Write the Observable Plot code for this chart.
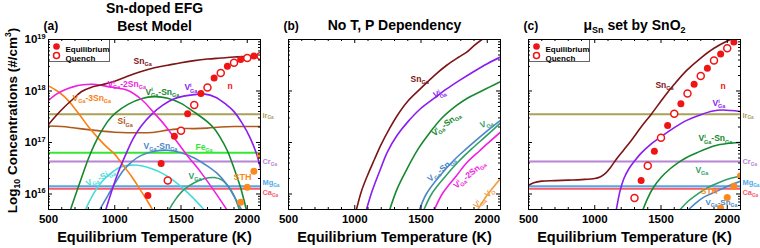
<!DOCTYPE html>
<html><head><meta charset="utf-8">
<script src="https://cdn.jsdelivr.net/npm/d3@7"></script>
<script src="https://cdn.jsdelivr.net/npm/@observablehq/plot@0.6"></script>
<style>
html,body{margin:0;padding:0;background:#fff;}
#wrap{position:relative;width:760px;height:248px;overflow:hidden;background:#fff;}
#wrap svg{position:absolute;left:0;top:0;}
.lgbox{position:absolute;top:39px;width:62px;height:23px;box-sizing:border-box;border:1px solid #666;background:#fff;}
</style></head><body><div id="wrap"><div class="lgbox" style="left:48px"></div><div class="lgbox" style="left:528px"></div></div>
<script>
// ---------- data: [temperature K, log10 concentration (#/cm3)] ----------
// Panel (a) Sn-doped EFG, best model
const snA    = [[500,17.35],[560,17.53],[620,17.69],[680,17.83],[750,17.99],[820,18.07],[900,18.12],[1000,18.19],[1100,18.29],[1200,18.38],[1300,18.45],[1400,18.50],[1500,18.55],[1600,18.59],[1700,18.62],[1800,18.64],[1900,18.66],[2000,18.67],[2100,18.68]];
const vi2snA = [[500,17.82],[560,17.94],[620,18.02],[685,18.08],[760,18.12],[830,18.13],[900,18.11],[960,18.08],[1040,18.05],[1100,18.01],[1200,17.84],[1295,17.58],[1380,17.33],[1460,17.05],[1550,16.74],[1650,16.42],[1750,16.06],[1860,15.64]];
const v3snA  = [[500,18.10],[560,18.01],[620,17.89],[680,17.72],[740,17.52],[800,17.31],[870,17.10],[940,16.91],[1000,16.77],[1066,16.55],[1130,16.33],[1193,16.08],[1250,15.85],[1300,15.63]];
const visnA  = [[660,15.65],[700,15.95],[750,16.32],[800,16.68],[850,16.98],[900,17.22],[950,17.42],[1000,17.56],[1100,17.74],[1200,17.85],[1300,17.89],[1400,17.86],[1500,17.76],[1600,17.59],[1700,17.40],[1750,17.27],[1800,17.08],[1850,16.84],[1900,16.50],[1950,16.12],[2000,15.62]];
const viA    = [[927,15.65],[970,16.00],[1020,16.38],[1080,16.75],[1140,17.08],[1200,17.32],[1280,17.55],[1360,17.72],[1440,17.84],[1520,17.90],[1600,17.93],[1680,17.94],[1760,17.88],[1840,17.74],[1900,17.60],[1960,17.38],[2020,17.10],[2070,16.78],[2100,16.50]];
const vsnA   = [[876,15.65],[950,15.98],[1000,16.20],[1066,16.46],[1130,16.63],[1200,16.75],[1300,16.83],[1400,16.85],[1500,16.80],[1600,16.70],[1700,16.54],[1777,16.39],[1850,16.17],[1904,15.94],[1968,15.64]];
const vsiA   = [[770,15.65],[830,15.96],[890,16.20],[960,16.38],[1040,16.52],[1120,16.56],[1200,16.55],[1280,16.49],[1360,16.40],[1440,16.27],[1520,16.10],[1600,15.90],[1700,15.62]];
const vA     = [[1400,15.65],[1460,15.90],[1520,16.08],[1600,16.22],[1680,16.30],[1750,16.32],[1810,16.27],[1860,16.14],[1900,15.97],[1940,15.70],[1950,15.62]];
const siA    = [[500,17.32],[600,17.31],[700,17.28],[800,17.25],[900,17.22],[1000,17.20],[1100,17.19],[1200,17.19],[1300,17.20],[1400,17.24],[1500,17.27],[1600,17.27],[1700,17.28],[1800,17.30],[1900,17.31],[2000,17.31],[2100,17.31]];
const eqA    = [[1250,15.97],[1350,16.59],[1450,17.12],[1550,17.56],[1650,17.95],[1750,18.25],[1850,18.48],[1950,18.61],[2050,18.68]];
const qA     = [[1400,16.26],[1500,17.23],[1600,17.73],[1700,18.07],[1800,18.35],[1900,18.55],[2000,18.64],[2100,18.68]];
const sthA   = [[1950,15.84],[2000,16.13],[2050,16.44],[2100,16.75]];

// Panel (b) no T, P dependency
const snB    = [[1008,15.65],[1050,16.05],[1096,16.36],[1150,16.68],[1195,16.94],[1260,17.26],[1320,17.52],[1400,17.80],[1494,18.04],[1600,18.30],[1694,18.50],[1780,18.65],[1843,18.75],[1900,18.88],[1960,19.00],[2050,19.15]];
const viB    = [[1083,15.65],[1130,16.05],[1195,16.49],[1245,16.81],[1320,17.14],[1400,17.40],[1494,17.65],[1600,17.86],[1694,18.04],[1800,18.22],[1893,18.37],[2000,18.53],[2100,18.66]];
const visnB  = [[1258,15.65],[1320,16.10],[1395,16.49],[1480,16.88],[1569,17.20],[1660,17.48],[1769,17.72],[1850,17.86],[1943,17.98],[2020,18.08],[2100,18.18]];
const vsnB   = [[1482,15.65],[1540,16.00],[1644,16.36],[1750,16.66],[1843,16.88],[1950,17.12],[2030,17.29],[2100,17.43]];
const vB     = [[1515,15.65],[1580,16.00],[1680,16.33],[1780,16.62],[1880,16.87],[1980,17.10],[2100,17.38]];
const vi2snB = [[1594,15.65],[1660,16.00],[1769,16.36],[1850,16.62],[1943,16.84],[2020,17.02],[2100,17.20]];
const vivoB  = [[1918,15.65],[2000,15.98],[2100,16.30]];

// Panel (c) mu_Sn set by SnO2
const snC    = [[500,16.17],[540,16.22],[600,16.25],[700,16.26],[800,16.27],[900,16.28],[1000,16.30],[1040,16.33],[1080,16.40],[1120,16.52],[1170,16.70],[1220,16.86],[1270,17.02],[1350,17.30],[1430,17.56],[1519,17.87],[1600,18.13],[1694,18.40],[1800,18.64],[1900,18.83],[2000,18.97],[2100,19.08]];
const viC    = [[1160,15.65],[1190,16.05],[1220,16.30],[1260,16.50],[1300,16.64],[1345,16.78],[1420,16.96],[1494,17.10],[1600,17.29],[1694,17.43],[1800,17.54],[1893,17.61],[1960,17.63],[2030,17.62],[2100,17.60]];
const visnC  = [[1357,15.65],[1400,15.92],[1444,16.13],[1500,16.32],[1569,16.49],[1630,16.61],[1694,16.71],[1770,16.80],[1843,16.88],[1943,16.96],[2000,16.98],[2100,17.00]];
const vC     = [[1629,15.65],[1700,15.85],[1760,15.97],[1818,16.07],[1880,16.16],[1943,16.23],[2020,16.30],[2100,16.35]];
const vsnC   = [[1690,15.65],[1760,15.82],[1830,15.95],[1900,16.03],[1943,16.08],[2020,16.17],[2100,16.25]];
const eqC    = [[1350,16.26],[1450,16.83],[1550,17.33],[1650,17.75],[1750,18.13],[1850,18.44],[1950,18.72],[2050,18.95]];
const qC     = [[1300,15.92],[1400,16.55],[1500,17.09],[1600,17.56],[1700,17.95],[1800,18.29],[1900,18.59],[2000,18.83]];
const sthC   = [[1950,15.73],[2000,15.93],[2050,16.15],[2100,16.35]];

// constant (horizontal) impurity levels, log10
const irLevel = 17.55, feLevel = 16.80, crLevel = 16.63, mgLevel = 16.15, caLevel = 16.10;

// ticks
const xMajor = [500, 1000, 1500, 2000];
const xMinor = [600,700,800,900,1100,1200,1300,1400,1600,1700,1800,1900,2100];
const yMajor = [16, 17, 18, 19];
const yMinor = [];
for (let n = 15; n <= 18; n++) for (let k = 2; k <= 9; k++) { const v = n + Math.log10(k); if (v > 15.7 && v < 19) yMinor.push(v); }

// ---------- layout & style ----------
const W = 760, H = 248, MT = 39, MB = 39;
const FONT = "'Liberation Sans', Arial, Helvetica, sans-serif";
const X_DOMAIN = [500, 2100], Y_DOMAIN = [15.699, 19];
const C = {sn:"#7d1416", vi:"#8b1cf0", visn:"#16892e", v:"#2f9f67", vsn:"#4a87c6", vsi:"#46dcdc",
  vi2sn:"#f01ee0", v3sn:"#fb7f13", si:"#b0581e", ir:"#aaa15a", fe:"#33e833", cr:"#b884d4",
  mg:"#4fa8ec", ca:"#fa5a6a", pt:"#f01414", sth:"#fb8a1e", vivo:"#f0a048"};

function panel(o) {
  const fw = o.x1 - o.x0, fh = H - MT - MB;
  const marks = [];
  for (const h of o.hlines) marks.push(Plot.ruleY([h.v], {y: d => d, stroke: h.c, strokeWidth: 2}));
  for (const l of o.lines) marks.push(Plot.line(l.d, {x: d => d[0], y: d => d[1], stroke: l.c, strokeWidth: 1.6, curve: "catmull-rom", clip: true}));
  for (const p of o.dots) marks.push(Plot.dot(p.d, {x: d => d[0], y: d => d[1], r: 3.5, fill: p.open ? "white" : p.c, stroke: p.c, strokeWidth: p.open ? 1.5 : 0, clip: true}));
  for (const t of o.labels) marks.push(Plot.text([t], {x: d => d.x, y: d => d.y, text: d => d.t, fill: t.c,
    fontSize: t.fs || 8.5, fontWeight: "bold", textAnchor: t.r ? "middle" : "start", lineAnchor: t.r ? "middle" : "bottom", rotate: t.r || 0}));
  for (const t of (o.rlabels || [])) marks.push(Plot.text([t], {y: d => d.y, text: d => d.t, fill: t.c, frameAnchor: "right", dx: 2,
    fontSize: 7.4, fontWeight: "bold", textAnchor: "start"}));
  if (o.legend) {
    marks.push(Plot.dot(["Equilibrium"], {frameAnchor: "top-left", dx: 8, dy: 7, r: 3.3, fill: C.pt}));
    marks.push(Plot.dot(["Quench"], {frameAnchor: "top-left", dx: 8, dy: 16, r: 3, fill: "white", stroke: C.pt, strokeWidth: 1.5}));
    marks.push(Plot.text(["Equilibrium"], {frameAnchor: "top-left", dx: 17, dy: 7, text: d => d, fontSize: 8, fontWeight: "bold", textAnchor: "start"}));
    marks.push(Plot.text(["Quench"], {frameAnchor: "top-left", dx: 17, dy: 16, text: d => d, fontSize: 8, fontWeight: "bold", textAnchor: "start"}));
  }
  // inward ticks on all four sides
  marks.push(Plot.tickX(xMajor, {x: d => d, insetTop: fh - 4, stroke: "#000"}));
  marks.push(Plot.tickX(xMajor, {x: d => d, insetBottom: fh - 4, stroke: "#000"}));
  marks.push(Plot.tickX(xMinor, {x: d => d, insetTop: fh - 2, stroke: "#000"}));
  marks.push(Plot.tickX(xMinor, {x: d => d, insetBottom: fh - 2, stroke: "#000"}));
  marks.push(Plot.tickY(yMajor, {y: d => d, insetRight: fw - 4, stroke: "#000"}));
  marks.push(Plot.tickY(yMajor, {y: d => d, insetLeft: fw - 4, stroke: "#000"}));
  marks.push(Plot.tickY(yMinor, {y: d => d, insetRight: fw - 2, stroke: "#000"}));
  marks.push(Plot.tickY(yMinor, {y: d => d, insetLeft: fw - 2, stroke: "#000"}));
  marks.push(Plot.frame({stroke: "#000", strokeWidth: 1}));
  // x tick labels & title
  marks.push(Plot.text(xMajor, {x: d => d, text: d => String(d), frameAnchor: "bottom", dy: 13, lineAnchor: "bottom", fontSize: 11.5, fontWeight: "bold"}));
  marks.push(Plot.text(["Equilibrium Temperature (K)"], {text: d => d, frameAnchor: "bottom", dy: 32, lineAnchor: "bottom", fontSize: 14.5, fontWeight: "bold"}));
  // panel title & tag
  o.title.forEach((t, i) => marks.push(Plot.text([t], {text: d => d, frameAnchor: "top", dy: o.title.length === 2 ? (i ? -9 : -27) : -10, lineAnchor: "bottom", fontSize: 14, fontWeight: "bold"})));
  marks.push(Plot.text([o.tag], {text: d => d, frameAnchor: "top-left", dx: -5, dy: -10, lineAnchor: "bottom", textAnchor: "start", fontSize: 12, fontWeight: "bold"}));
  if (o.yaxis) {
    marks.push(Plot.text(yMajor, {y: d => d, text: d => `10^{${d}}`, frameAnchor: "left", dx: -3, textAnchor: "end", fontSize: 11.5, fontWeight: "bold"}));
    marks.push(Plot.text(["Log_{10} Concentrations (#/cm^{3})"], {text: d => d, frameAnchor: "left", dx: -36, dy: -4, rotate: -90, textAnchor: "middle", fontSize: 13.5, fontWeight: "bold"}));
  }
  return Plot.plot({
    width: W, height: H, marginLeft: o.x0, marginRight: W - o.x1, marginTop: MT, marginBottom: MB,
    x: {domain: X_DOMAIN, axis: null}, y: {domain: Y_DOMAIN, axis: null},
    style: {fontFamily: FONT, background: "transparent", overflow: "visible", color: "#000"},
    marks
  });
}

const rl = [{t:"Ir_{Ga}", y:17.53, c:C.ir}, {t:"Cr_{Ga}", y:16.62, c:C.cr}, {t:"Mg_{Ga}", y:16.22, c:C.mg}, {t:"Ca_{Ga}", y:16.03, c:C.ca}];

const pa = panel({x0: 48, x1: 260, yaxis: true, legend: true, tag: "(a)", title: ["Sn-doped EFG", "Best Model"],
  hlines: [{v: irLevel, c: C.ir}, {v: feLevel, c: C.fe}, {v: crLevel, c: C.cr}, {v: mgLevel, c: C.mg}, {v: caLevel, c: C.ca}],
  lines: [{d: siA, c: C.si}, {d: vsiA, c: C.vsi}, {d: vA, c: C.v}, {d: vsnA, c: C.vsn}, {d: v3snA, c: C.v3sn},
          {d: visnA, c: C.visn}, {d: viA, c: C.vi}, {d: vi2snA, c: C.vi2sn}, {d: snA, c: C.sn}],
  dots: [{d: sthA, c: C.sth}, {d: eqA, c: C.pt}, {d: qA, c: C.pt, open: true}],
  labels: [
    {t:"Sn_{Ga}", x:1142, y:18.53, c:C.sn},
    {t:"V^{i}_{Ga}-2Sn_{Ga}", x:945, y:18.07, c:C.vi2sn},
    {t:"V^{i}_{Ga}-Sn_{Ga}", x:1232, y:17.93, c:C.visn},
    {t:"V^{i}_{Ga}", x:1526, y:18.01, c:C.vi},
    {t:"n", x:1851, y:18.03, c:C.pt},
    {t:"V_{Ga}-3Sn_{Ga}", x:681, y:17.80, c:C.v3sn},
    {t:"Si_{Ga}", x:1021, y:17.35, c:C.si},
    {t:"V_{Ga}-Sn_{Ga}", x:1217, y:16.88, c:C.vsn},
    {t:"Fe_{Ga}", x:1609, y:16.86, c:C.fe},
    {t:"V_{Ga}", x:1557, y:16.30, c:C.v},
    {t:"STH", x:1896, y:16.28, c:C.sth, fs: 9},
    {t:"V_{Ga}-Si_{Ga}", x:892, y:16.32, c:C.vsi, r:-25}
  ],
  rlabels: rl});

const pb = panel({x0: 288, x1: 500, tag: "(b)", title: ["No T, P Dependency"],
  hlines: [],
  lines: [{d: vivoB, c: C.vivo}, {d: vi2snB, c: C.vi2sn}, {d: vB, c: C.v}, {d: vsnB, c: C.vsn}, {d: visnB, c: C.visn}, {d: viB, c: C.vi}, {d: snB, c: C.sn}],
  dots: [],
  labels: [
    {t:"Sn_{Ga}", x:1421, y:18.17, c:C.sn},
    {t:"V^{i}_{Ga}", x:1640, y:17.95, c:C.vi, r:-20},
    {t:"V^{i}_{Ga}-Sn_{Ga}", x:1689, y:17.36, c:C.visn, r:-38},
    {t:"V_{Ga}", x:1994, y:17.37, c:C.v, r:-20},
    {t:"V_{Ga}-Sn_{Ga}", x:1655, y:16.48, c:C.vsn, r:-40},
    {t:"V^{i}_{Ga}-2Sn_{Ga}", x:1866, y:16.38, c:C.vi2sn, r:-40},
    {t:"V^{i}_{Ga}-V_{O}", x:1975, y:15.92, c:C.vivo, r:-45}
  ]});

const pc = panel({x0: 528, x1: 740, legend: true, tag: "(c)", title: ["μ_{Sn} set by SnO_{2}"],
  hlines: [{v: irLevel, c: C.ir}, {v: crLevel, c: C.cr}, {v: mgLevel, c: C.mg}, {v: caLevel, c: C.ca}],
  lines: [{d: vsnC, c: C.vsn}, {d: vC, c: C.v}, {d: visnC, c: C.visn}, {d: viC, c: C.vi}, {d: snC, c: C.sn}],
  dots: [{d: sthC, c: C.sth}, {d: eqC, c: C.pt}, {d: qC, c: C.pt, open: true}],
  labels: [
    {t:"Sn_{Ga}", x:1458, y:18.05, c:C.sn},
    {t:"n", x:1949, y:18.03, c:C.pt},
    {t:"V^{i}_{Ga}", x:1889, y:17.70, c:C.vi},
    {t:"V^{i}_{Ga}-Sn_{Ga}", x:1783, y:17.02, c:C.visn},
    {t:"V_{Ga}", x:1760, y:16.40, c:C.v},
    {t:"STH", x:1800, y:16.00, c:C.sth, fs: 8.5},
    {t:"V_{Ga}-Sn_{Ga}", x:1836, y:15.78, c:C.vsn, fs: 8}
  ],
  rlabels: rl});

const wrap = document.getElementById("wrap");
[pa, pb, pc].forEach(s => wrap.appendChild(s));

// turn ^{..} / _{..} markup into real superscript / subscript tspans
const NS = "http://www.w3.org/2000/svg";
function rich(svg) {
  for (const el of svg.querySelectorAll("text")) {
    const s = el.textContent;
    if (!/[\^_]\{/.test(s)) continue;
    while (el.firstChild) el.removeChild(el.firstChild);
    const re = /\^\{([^}]*)\}|_\{([^}]*)\}|([^\^_]+)/g;
    let m, shift = 0, prevSup = null;
    while ((m = re.exec(s))) {
      const kind = m[1] !== undefined ? "sup" : m[2] !== undefined ? "sub" : "n";
      const txt = m[1] !== undefined ? m[1] : m[2] !== undefined ? m[2] : m[3];
      const size = kind === "n" ? 1 : 0.64;
      const target = kind === "sup" ? -0.40 : kind === "sub" ? 0.24 : 0;
      const t = document.createElementNS(NS, "tspan");
      if (size !== 1) t.setAttribute("font-size", (size * 100) + "%");
      const dy = (target - shift) / size;
      if (Math.abs(dy) > 1e-6) t.setAttribute("dy", dy.toFixed(3) + "em");
      if (kind === "sub" && prevSup) t.setAttribute("dx", (-prevSup.length * 0.3).toFixed(3) + "em");
      t.textContent = txt;
      el.appendChild(t);
      shift = target;
      prevSup = kind === "sup" ? txt : null;
    }
  }
}
[pa, pb, pc].forEach(rich);
</script></body></html>
